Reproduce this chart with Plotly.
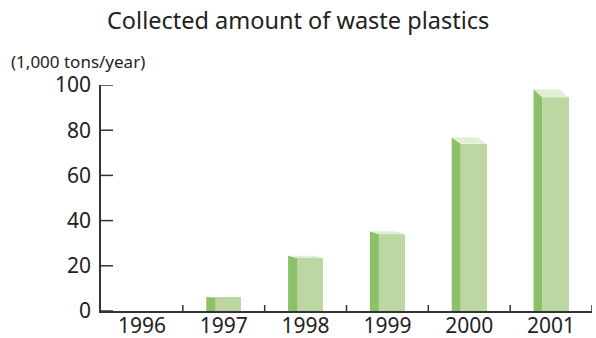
import plotly.graph_objects as go

years = ["1996", "1997", "1998", "1999", "2000", "2001"]
values = [0, 6, 23.5, 34, 74, 94.5]
y_ticks = [0, 20, 40, 60, 80, 100]

FRONT = "#bcd7a1"
SIDE = "#8cc168"
TOP = "#e3eed7"
AXIS = "#333333"

# bar geometry (category units / fraction of value for depth)
half = 0.214
side_w = 0.11
depth_frac = 0.038

xs = list(range(len(years)))
boundaries = [x + 0.5 for x in xs]

fig = go.Figure()

# side faces and top faces as polygons derived from the data
sx, sy, tx, ty = [], [], [], []
for i, v in zip(xs, values):
    if v <= 0:
        continue
    d = v * depth_frac
    left = i - half
    fl = left + side_w
    right = i + half
    sx += [left, left, fl, fl, left, None]
    sy += [0, v + d, v, 0, 0, None]
    tx += [left, right - side_w, right, fl, left, None]
    ty += [v + d, v + d, v, v, v + d, None]

fig.add_trace(go.Scatter(x=sx, y=sy, fill="toself", fillcolor=SIDE, mode="lines",
                         line=dict(width=0), hoverinfo="skip", showlegend=False))
fig.add_trace(go.Scatter(x=tx, y=ty, fill="toself", fillcolor=TOP, mode="lines",
                         line=dict(width=0), hoverinfo="skip", showlegend=False))
fig.add_trace(go.Bar(x=xs, y=values, width=2 * half - side_w, offset=-half + side_w,
                     marker=dict(color=FRONT, line=dict(width=0)), showlegend=False))

# inside tick marks drawn as pixel-sized shapes anchored at tick values
shapes = []
for yv in y_ticks:
    shapes.append(dict(type="line", xref="paper", yref="y", xsizemode="pixel",
                       xanchor=0, x0=0, x1=12, y0=yv, y1=yv,
                       line=dict(color=AXIS, width=1.5)))
for b in boundaries:
    shapes.append(dict(type="line", xref="x", yref="paper", ysizemode="pixel",
                       yanchor=0, y0=0, y1=6, x0=b, x1=b,
                       line=dict(color=AXIS, width=1.5)))

font = "Noto Sans, Open Sans, DejaVu Sans, sans-serif"

fig.update_layout(
    width=596, height=338,
    margin=dict(l=101, r=4, t=85, b=27),
    paper_bgcolor="white", plot_bgcolor="white",
    font=dict(family=font, color="#222222"),
    bargap=0,
    shapes=shapes,
    xaxis=dict(range=[-0.5, 5.5], tickvals=xs, ticktext=years, ticks="",
               showgrid=False, zeroline=False, showline=True, linecolor=AXIS,
               linewidth=1.5, tickfont=dict(size=21), ticklabelstandoff=-5,
               automargin=False),
    yaxis=dict(range=[0, 100], tickvals=y_ticks, ticks="",
               showgrid=False, zeroline=False,
               showline=True, linecolor=AXIS, linewidth=1.5,
               tickfont=dict(size=21), ticklabelstandoff=4, automargin=False),
    annotations=[
        dict(text="Collected amount of waste plastics", xref="paper", yref="paper",
             x=0.5, xanchor="center", y=1.0, yanchor="middle", yshift=65,
             showarrow=False, font=dict(size=23.5, color="#222222"),
             xshift=-(101 - 4) / 2),
        dict(text="(1,000 tons/year)", xref="paper", yref="paper", x=0, xanchor="left",
             xshift=-92, y=1.0, yanchor="middle", yshift=24, showarrow=False,
             font=dict(size=17, color="#222222")),
    ],
)

fig.write_html("out.html")
